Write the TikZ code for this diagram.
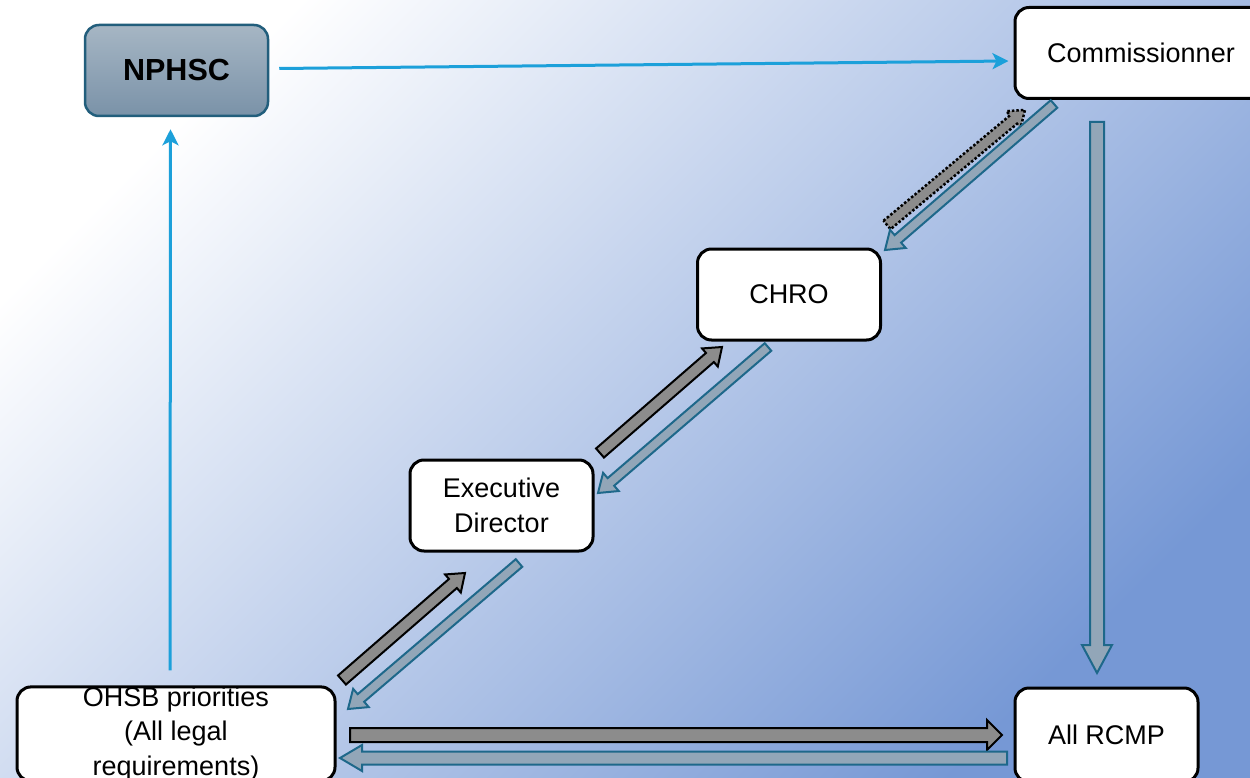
\documentclass[tikz,border=0pt]{standalone}
\usepackage{fontspec}
\setmainfont{Liberation Sans}
\usetikzlibrary{calc,arrows.meta}
\definecolor{bgblue}{RGB}{118,152,213}
\definecolor{bgmid}{RGB}{196,210,238}
\definecolor{lineblue}{RGB}{28,160,218}
\definecolor{tealedge}{RGB}{30,104,138}
\definecolor{tealfill}{RGB}{146,166,184}
\definecolor{grayfill}{RGB}{140,140,140}
\definecolor{npA}{RGB}{166,182,196}
\definecolor{npB}{RGB}{122,146,168}
\definecolor{npedge}{RGB}{34,94,124}
\tikzset{
  box/.style={draw=black, line width=3pt, fill=white, rounded corners=14pt,
    minimum width=183pt, minimum height=91pt, align=center,
    font=\fontsize{27}{34.5}\selectfont, inner sep=0pt},
  npbox/.style={draw=npedge, line width=2.5pt, top color=npA, bottom color=npB,
    rounded corners=14pt, minimum width=183pt, minimum height=91pt,
    font=\fontsize{30.5}{33}\selectfont\bfseries, inner sep=0pt},
  thinarrow/.style={draw=lineblue, line width=3pt, -{Stealth[length=16pt,width=16pt,inset=4pt]}},
  grayblk/.style={draw=black, line width=2pt, fill=grayfill, line join=miter},
  dotblk/.style={draw=black, line width=2.5pt, dotted, fill=grayfill, line join=miter},
  tealblk/.style={draw=tealedge, line width=2pt, fill=tealfill, line join=miter},
}
% style, from, to, shaft half, head half, head length
\newcommand\blkarr[6]{%
  \coordinate (bkh) at ($(#3)!#6!(#2)$);
  \draw[#1] ($(#2)!#4!90:(#3)$) -- ($(bkh)!#4!90:(#3)$) -- ($(bkh)!#5!90:(#3)$) -- (#3)
     -- ($(bkh)!#5!-90:(#3)$) -- ($(bkh)!#4!-90:(#3)$) -- ($(#2)!#4!-90:(#3)$) -- cycle;}
\begin{document}
\begin{tikzpicture}[x=1pt,y=-1pt]
\useasboundingbox (0,0) rectangle (1250,778);
\shade[left color=white, middle color=bgmid, right color=bgblue, shading angle=45] (0,0) rectangle (1250,778);

% nodes
\node[npbox] (nphsc) at (176.5,70.5) {NPHSC};
\node[box, minimum width=256pt] (comm) at (1143,53) {\hspace*{-4pt}Commissionner};
\node[box] (chro) at (789,294.5) {CHRO};
\node[box] (ed) at (501.5,505.5) {Executive\\Director};
\node[box, minimum width=318pt, minimum height=94pt] (ohsb) at (176,734) {OHSB priorities\\(All legal\\requirements)};
\node[box, minimum height=94pt] (rcmp) at (1106.5,735) {All RCMP};

% thin blue connectors
\draw[thinarrow] ($(nphsc.east)+(10,-2)$) -- ($(comm.west)+(-5,8)$);
\coordinate (o1) at ($(ohsb.north)+(-6,-15)$);
\coordinate (n1) at ($(nphsc.south)+(-6,12)$);
\draw[thinarrow] (o1) -- (n1);

% block arrows: Commissionner <-> CHRO
\coordinate (g1a) at (887,225); \coordinate (g1b) at (1025,110);
\blkarr{dotblk}{g1a}{g1b}{5.5pt}{11pt}{15pt}
\coordinate (t1a) at (1054,104); \coordinate (t1b) at (885,250);
\blkarr{tealblk}{t1a}{t1b}{5pt}{12pt}{17pt}

% CHRO <-> ED
\coordinate (g2a) at (600,453); \coordinate (g2b) at (722,347);
\blkarr{grayblk}{g2a}{g2b}{6pt}{12pt}{16pt}
\coordinate (t2a) at (768,347); \coordinate (t2b) at (598,493);
\blkarr{tealblk}{t2a}{t2b}{5pt}{12pt}{17pt}

% ED <-> OHSB
\coordinate (g3a) at (342,680); \coordinate (g3b) at (465,573);
\blkarr{grayblk}{g3a}{g3b}{6pt}{12pt}{16pt}
\coordinate (t3a) at (519,563); \coordinate (t3b) at (348,709);
\blkarr{tealblk}{t3a}{t3b}{5pt}{12pt}{17pt}

% OHSB <-> All RCMP
\coordinate (g4a) at (350,735); \coordinate (g4b) at (1002,735);
\blkarr{grayblk}{g4a}{g4b}{7pt}{15pt}{15pt}
\coordinate (t4a) at (1007,758); \coordinate (t4b) at (340,758);
\blkarr{tealblk}{t4a}{t4b}{6.5pt}{13pt}{22pt}

% Commissionner -> All RCMP
\coordinate (t5a) at (1097,122); \coordinate (t5b) at (1097,673);
\blkarr{tealblk}{t5a}{t5b}{7pt}{15pt}{28pt}
\end{tikzpicture}
\end{document}
